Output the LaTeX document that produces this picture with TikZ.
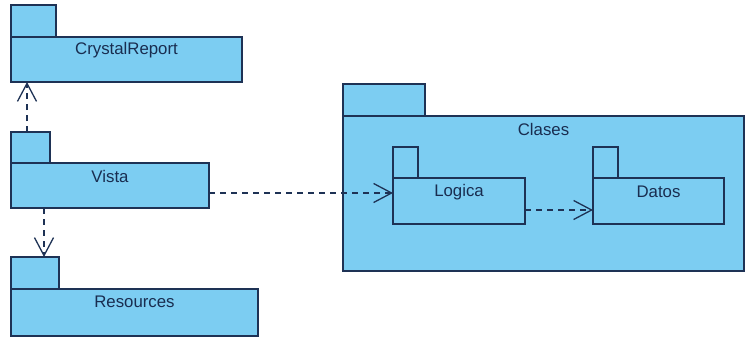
\documentclass[tikz,border=0pt]{standalone}
\usepackage{fontspec}
\setmainfont{Liberation Sans}
\usetikzlibrary{arrows.meta}
\definecolor{pkfill}{RGB}{124,205,242}
\definecolor{pkline}{RGB}{30,50,85}
\definecolor{pktext}{RGB}{25,45,80}
\begin{document}
\begin{tikzpicture}[x=1pt,y=-1pt,
  pkbody/.style={draw=pkline,fill=pkfill,line width=1.3pt,rectangle,inner sep=0pt,outer sep=0pt,anchor=north west},
  pktab/.style={draw=pkline,fill=pkfill,line width=1.3pt,rectangle,inner sep=0pt,outer sep=0pt,anchor=south west},
  pklabel/.style={text=pktext,font=\fontsize{16.8}{18}\selectfont,inner sep=0pt,anchor=center},
  dep/.style={draw=pkline,line width=1.1pt,dash pattern=on 6pt off 5pt,-{Straight Barb[length=18pt,width=19pt,line width=1.3pt]}}]
\useasboundingbox (0,0) rectangle (746,337);
% CrystalReport
\node[pkbody,minimum width=231pt,minimum height=45pt] (cr) at (11,37) {};
\node[pktab,minimum width=45pt,minimum height=32pt] (crtab) at (cr.north west) {};
\node[pklabel] (crt) at ([yshift=-13pt]cr.north) {CrystalReport};
% Vista
\node[pkbody,minimum width=198pt,minimum height=45pt] (vista) at (11,163) {};
\node[pktab,minimum width=39pt,minimum height=31pt] (vtab) at (vista.north west) {};
\node[pklabel] (vt) at ([yshift=-13pt]vista.north) {Vista};
% Resources
\node[pkbody,minimum width=247pt,minimum height=47pt] (res) at (11,289) {};
\node[pktab,minimum width=48pt,minimum height=32pt] (rtab) at (res.north west) {};
\node[pklabel] (rt) at ([yshift=-13pt]res.north) {Resources};
% Clases
\node[pkbody,minimum width=401pt,minimum height=155pt] (cl) at (343,116) {};
\node[pktab,minimum width=82pt,minimum height=32pt] (cltab) at (cl.north west) {};
\node[pklabel] (clt) at ([yshift=-13pt]cl.north) {Clases};
% Logica
\node[pkbody,minimum width=132pt,minimum height=46pt] (lg) at (393,178) {};
\node[pktab,minimum width=25pt,minimum height=31pt] (lgtab) at (lg.north west) {};
\node[pklabel] (lgt) at ([yshift=-14pt]lg.north) {Logica};
% Datos
\node[pkbody,minimum width=131pt,minimum height=46pt] (dt) at (593,178) {};
\node[pktab,minimum width=25pt,minimum height=31pt] (dttab) at (dt.north west) {};
\node[pklabel] (dtt) at ([yshift=-14pt]dt.north) {Datos};
% dependencies
\coordinate (c1) at ([xshift=16pt]vtab.north west);
\draw[dep] (c1) -- (c1 |- cr.south);
\coordinate (c2) at ([xshift=33pt]vista.south west);
\draw[dep] (c2) -- (c2 |- rtab.north);
\coordinate (c3) at ([yshift=15pt]vista.south east);
\draw[dep] (c3) -- (c3 -| lg.west);
\coordinate (c4) at ([yshift=14pt]lg.south east);
\draw[dep] (c4) -- (c4 -| dt.west);
\end{tikzpicture}
\end{document}
